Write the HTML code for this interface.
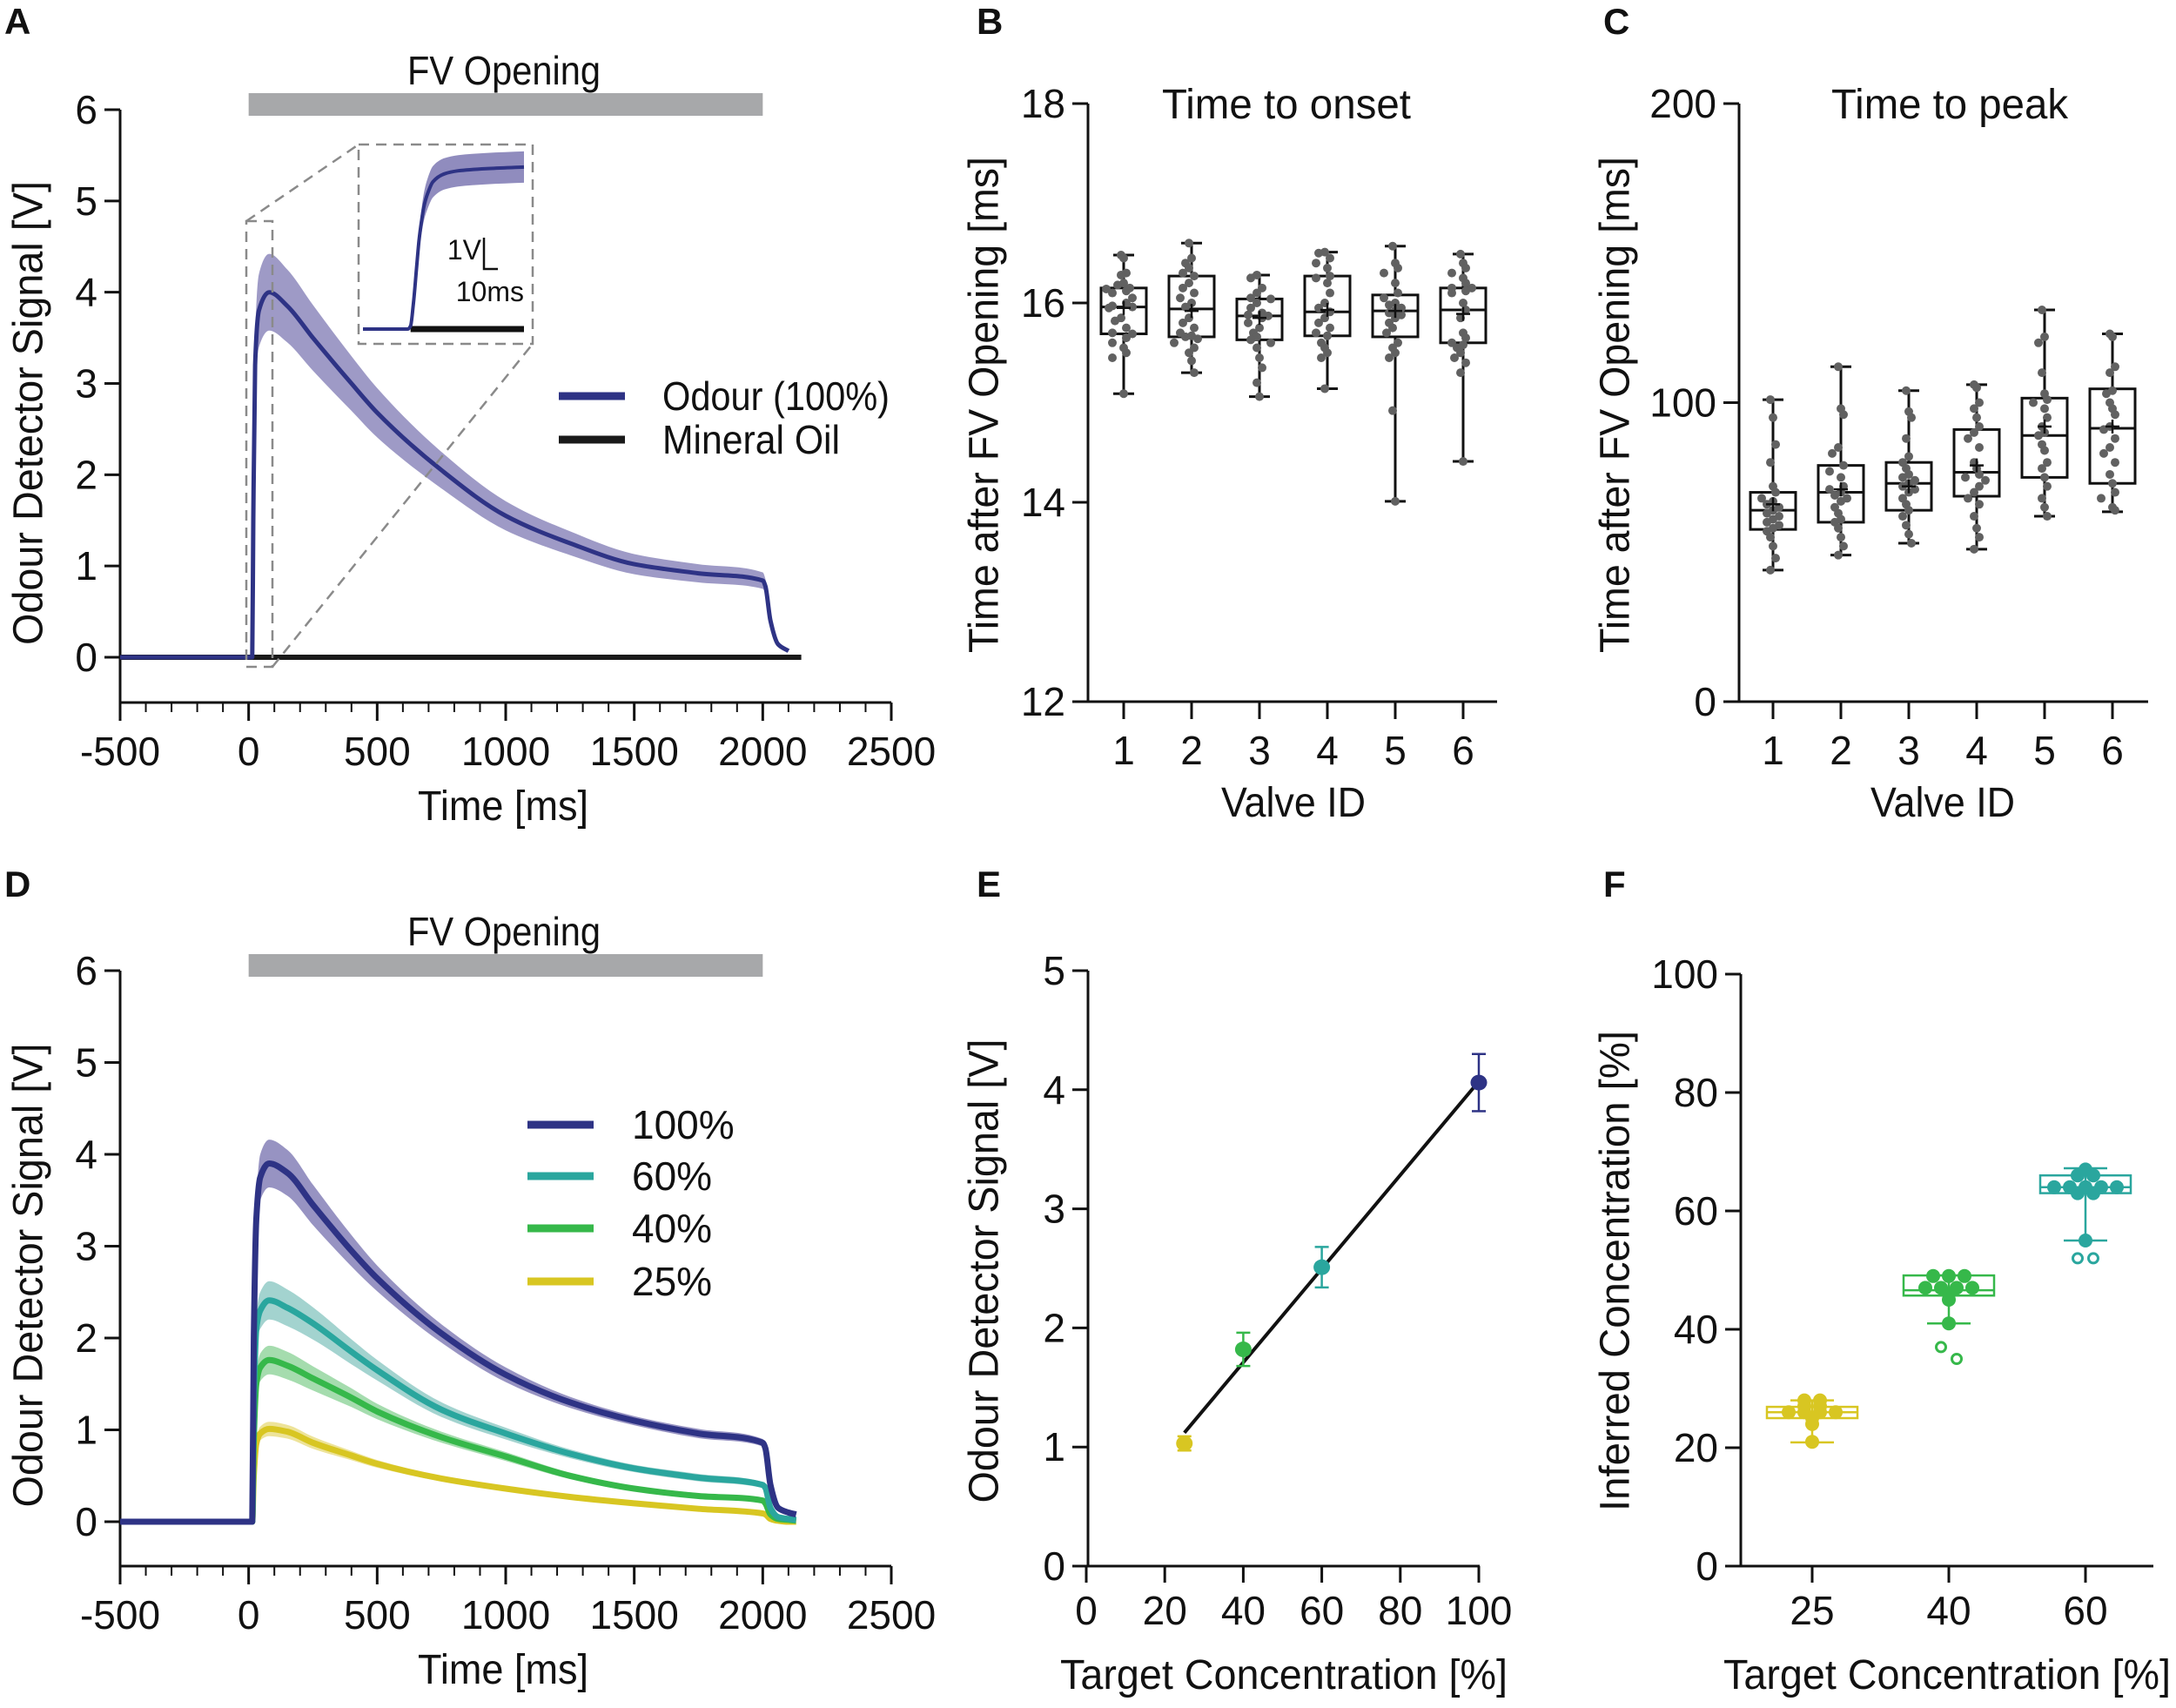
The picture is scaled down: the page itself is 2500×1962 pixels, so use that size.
<!DOCTYPE html>
<html><head><meta charset="utf-8">
<style>
html,body{margin:0;padding:0;background:#fff;}
svg{display:block;font-family:"Liberation Sans",Arial,sans-serif;}
text{fill:#111;}
</style></head>
<body>
<svg id="fig" width="2500" height="1962" viewBox="0 0 2500 1962" xmlns="http://www.w3.org/2000/svg"></svg>
<script>
// ===== Panel A data =====
const aTime = [-500,-100,0,14,18,25,40,80,150,250,400,500,750,1000,1250,1500,1750,2000,2010,2030,2060,2100];
const aOdour = [0,0,0,0,1.5,3.2,3.8,4.0,3.85,3.5,3.0,2.68,2.05,1.55,1.25,1.02,0.92,0.84,0.78,0.4,0.14,0.07];
const aOdourSd = [0,0,0,0,0.1,0.3,0.4,0.42,0.4,0.36,0.3,0.27,0.2,0.16,0.13,0.11,0.1,0.09,0.08,0.03,0.01,0.01];
const aOilTime = [-500,2150];
const aOil = [0,0];
const aTicksX = [-500,0,500,1000,1500,2000,2500];
const aTicksY = [0,1,2,3,4,5,6];
// inset
const insetTime = [-18,14,16,18,20,22,24,26,28,32,40,50,70,97];
const insetOdour = [0,0,0.1,0.8,1.8,2.8,3.5,4.0,4.3,4.7,4.95,5.05,5.12,5.17];
const insetSd = [0,0,0,0.05,0.15,0.3,0.4,0.45,0.48,0.5,0.5,0.5,0.5,0.5];
// ===== Panel B / C data =====
const valveIds = [1,2,3,4,5,6];
const bMax = [16.48,16.6,16.28,16.51,16.57,16.49];
const bQ3 = [16.15,16.27,16.04,16.27,16.08,16.15];
const bMed = [15.96,15.94,15.87,15.91,15.92,15.93];
const bQ1 = [15.69,15.66,15.63,15.67,15.66,15.60];
const bMin = [15.09,15.30,15.06,15.14,14.01,14.41];
const bMean = [15.95,15.92,15.85,15.93,15.92,15.89];
const bPts = [
 [16.48,16.45,16.3,16.28,16.2,16.18,16.15,16.14,16.12,16.1,16.05,16.0,15.97,15.96,15.95,15.85,15.82,15.75,15.7,15.69,15.65,15.6,15.55,15.5,15.45,15.09],
 [16.6,16.45,16.4,16.35,16.3,16.27,16.2,16.15,16.1,16.05,16.0,15.96,15.85,15.8,15.75,15.7,15.67,15.66,15.64,15.6,15.55,15.5,15.42,15.3],
 [16.28,16.25,16.15,16.1,16.05,16.04,16.0,15.95,15.9,15.88,15.87,15.85,15.8,15.75,15.7,15.66,15.63,15.6,15.55,15.45,15.35,15.2,15.06],
 [16.51,16.5,16.45,16.4,16.35,16.27,16.25,16.2,16.1,16.0,15.95,15.91,15.85,15.8,15.75,15.7,15.67,15.6,15.55,15.5,15.45,15.14],
 [16.57,16.4,16.35,16.3,16.2,16.1,16.05,16.0,15.98,15.95,15.92,15.9,15.88,15.85,15.8,15.75,15.7,15.6,15.55,15.5,15.45,14.92,14.01],
 [16.49,16.4,16.35,16.3,16.25,16.2,16.15,16.15,16.12,16.1,16.0,15.93,15.85,15.7,15.65,15.6,15.58,15.55,15.5,15.45,15.4,15.3,14.41]
];
const cMax = [101,112,104,106,131,123];
const cQ3 = [70,79,80,91,101.5,104.6];
const cMed = [64,70,73,76.7,89,91.4];
const cQ1 = [57.6,60,64,68.7,75,73];
const cMin = [44,49,53,51,62,63.5];
const cMean = [66,71,72,79,92,92];
const cPts = [
 [101,95,86,80,72,70,68,67,66,65,64,63,62,61,60,59,58,57,55,52,48,44],
 [112,98,96,85,83,79,77,75,72,71,70,69,68,67,65,63,61,60,58,55,52,49],
 [104,97,95,88,82,80,78,76,75,74,73,72,71,70,68,66,64,62,59,56,53],
 [106,105,100,98,95,92,90,88,85,80,78,76,75,74,72,70,68,66,62,58,55,51],
 [131,122,120,110,103,101,100,98,95,92,90,89,86,84,80,78,75,72,68,65,62],
 [123,122,112,110,104,103,100,98,96,92,91,88,85,83,80,76,73,70,68,65,64]
];
// ===== Panel D data =====
const dTime = [-500,0,14,20,30,45,80,150,250,400,500,750,1000,1250,1500,1750,2000,2010,2030,2060,2100,2130];
const d100 = [0,0,0,2.0,3.3,3.75,3.9,3.8,3.45,2.95,2.65,2.05,1.6,1.3,1.1,0.96,0.86,0.8,0.4,0.15,0.1,0.08];
const d60 = [0,0,0,1.3,2.1,2.3,2.41,2.33,2.16,1.85,1.65,1.22,0.96,0.74,0.58,0.48,0.4,0.37,0.15,0.05,0.03,0.02];
const d40 = [0,0,0,0.9,1.5,1.68,1.76,1.7,1.56,1.35,1.2,0.92,0.71,0.5,0.36,0.28,0.23,0.2,0.08,0.03,0.02,0.01];
const d25 = [0,0,0,0.5,0.85,0.96,1.01,0.98,0.86,0.72,0.63,0.47,0.36,0.27,0.2,0.14,0.09,0.08,0.03,0.01,0.0,0.0];
const dSd100 = [0,0,0,0.1,0.2,0.25,0.26,0.25,0.22,0.17,0.14,0.1,0.08,0.06,0.05,0.05,0.04,0.03,0.01,0,0,0];
const dSdScale = [1,0.8,0.6,0.3];
const dLabels = ["100%","60%","40%","25%"];
// ===== Panel E data =====
const eTarget = [25,40,60,100];
const eSignal = [1.03,1.82,2.51,4.06];
const eErr = [0.06,0.14,0.17,0.24];
const eFit = [1.12,4.07];
const eTicksX = [0,20,40,60,80,100];
const eTicksY = [0,1,2,3,4,5];
// ===== Panel F data =====
const fCats = ["25","40","60"];
const fMax = [28,49.1,67.2];
const fQ3 = [26.9,49.1,66];
const fMed = [26,46.6,64];
const fQ1 = [25,45.7,63];
const fMin = [20.9,41,55];
const fPts = [
 [28,28,27,27,26,26,26,26,25,24,21],
 [49,49,49,47,47,47,47,46,45,41],
 [67,66,66,64,64,64,64,64,63,63,55]
];
const fOpen = [[],[37,35],[52,52]];
const fTicksY = [0,20,40,60,80,100];

const navy="#2e3385", teal="#2aa69e", green="#36b84a", yellow="#d8c622";
const svg=document.getElementById('fig');
const NS="http://www.w3.org/2000/svg";
function el(tag,attrs,parent,txt){const e=document.createElementNS(NS,tag);for(const k in attrs)e.setAttribute(k,attrs[k]);if(txt!==undefined)e.textContent=txt;(parent||svg).appendChild(e);return e;}
function g(name){const e=el('g',{});


return e;}
function txt(parent,name,x,y,s,opts){const t=el('text',Object.assign({x:x,y:y,'font-size':46},opts||{}),parent,s);


return t;}
function ytitle(parent,name,cx,cy,s,len){const t=el('text',{x:0,y:0,'font-size':48,'text-anchor':'middle',textLength:len,lengthAdjust:'spacingAndGlyphs',transform:`translate(${cx},${cy}) rotate(-90)`,'dominant-baseline':'central'},parent,s);

}
function line(p,x1,y1,x2,y2,st,w){return el('line',{x1,y1,x2,y2,stroke:st||'#111','stroke-width':w||3},p);}
function lin(d0,d1,r0,r1){return v=>r0+(v-d0)*(r1-r0)/(d1-d0);}

// monotone cubic path through pixel points (x increasing)
function monoPath(px,py,start){
 const n=px.length;const d=[],m=new Array(n).fill(0);
 for(let i=0;i<n-1;i++)d.push((py[i+1]-py[i])/(px[i+1]-px[i]||1e-6));
 for(let i=1;i<n-1;i++){if(d[i-1]*d[i]<=0)m[i]=0;else{const w1=2*(px[i+1]-px[i])+(px[i]-px[i-1]),w2=(px[i+1]-px[i])+2*(px[i]-px[i-1]);m[i]=(w1+w2)/(w1/d[i-1]+w2/d[i]);}}
 m[0]=d[0];m[n-1]=d[n-2];
 let s=(start||'M')+px[0].toFixed(1)+','+py[0].toFixed(1);
 for(let i=0;i<n-1;i++){const h=(px[i+1]-px[i])/3;
  s+='C'+(px[i]+h).toFixed(1)+','+(py[i]+m[i]*h).toFixed(1)+' '+(px[i+1]-h).toFixed(1)+','+(py[i+1]-m[i+1]*h).toFixed(1)+' '+px[i+1].toFixed(1)+','+py[i+1].toFixed(1);}
 return s;
}

// panel letters
[["A",5,39],["B",1122,39],["C",1842,39],["D",5,1030],["E",1122,1030],["F",1842,1030]].forEach(l=>{
 const t=el('text',{x:l[1],y:l[2],'font-size':42,'font-weight':'bold'},svg,l[0]);
 
 
});

// ===== time-trace panels (A, D) =====
function traceAxes(p,prefix,top0,zeroY,axisY){
 const xs=lin(-500,2500,138,1024), ys=lin(0,6,zeroY,top0);
 line(p,138,ys(6),138,axisY);
 line(p,137,axisY,1024,axisY);
 aTicksY.forEach(v=>{line(p,120,ys(v),138,ys(v));txt(p,prefix+'-y-tick-'+v,112,ys(v)+16,String(v),{'text-anchor':'end'});});
 for(let t=-500;t<=2500;t+=100){const maj=t%500===0;line(p,xs(t),axisY,xs(t),axisY+(maj?21:11),'#111',maj?3:2);}
 aTicksX.forEach(v=>txt(p,prefix+'-x-tick-'+v,xs(v),axisY+72,String(v),{'text-anchor':'middle'}));
 txt(p,prefix+'-x-title',578,axisY+135,'Time [ms]',{'text-anchor':'middle',textLength:196,lengthAdjust:'spacingAndGlyphs','font-size':48});
 ytitle(p,prefix+'-y-title',33,(ys(6)+axisY)/2+8,'Odour Detector Signal [V]',533);
 const bar=el('rect',{x:xs(0),y:ys(6)-19,width:xs(2000)-xs(0),height:26,fill:'#a7a8aa'},p);
 
 
 txt(p,prefix+'-fv-opening-label',579,ys(6)-29,'FV Opening',{'text-anchor':'middle',textLength:222,lengthAdjust:'spacingAndGlyphs','font-size':46});
 return {xs,ys};
}
function band(p,name,t,v,sd,xs,ys,fill,op){
 const px=t.map(xs);
 const up=monoPath(px,t.map((tt,i)=>ys(v[i]+sd[i])));
 const rx=px.slice().reverse().map(x=>-x);
 const lo=t.map((tt,i)=>ys(v[i]-sd[i])).reverse();
 // build lower edge path reversed (negate x to keep increasing for the interpolation, then flip back)
 let low=monoPath(rx,lo,'L').replace(/(-?\d+\.?\d*),(-?\d+\.?\d*)/g,(m,a,b)=>(-parseFloat(a)).toFixed(1)+','+b);
 const e=el('path',{d:up+low+'Z',fill:fill,opacity:op},p);
 
 
}
function trace(p,name,t,v,xs,ys,col,w){
 const d=monoPath(t.map(xs),v.map(ys));
 const e=el('path',{d,fill:'none',stroke:col,'stroke-width':w,'stroke-linejoin':'round'},p);
 
 
}

// Panel A
const pA=g('panel-a');
const A=traceAxes(pA,'a',126,755,807);
band(pA,'a-odour-band',aTime,aOdour,aOdourSd,A.xs,A.ys,'#7d78b3',0.75);
trace(pA,'a-mineral-oil-line',aOilTime,aOil,A.xs,A.ys,'#1a1a1a',6);
trace(pA,'a-odour-line',aTime,aOdour,A.xs,A.ys,navy,5);
// zoom dashes
const dash={stroke:'#8a8a8a','stroke-width':2.5,fill:'none','stroke-dasharray':'12,8'};
el('rect',Object.assign({x:283,y:254,width:30,height:512},dash),pA);
el('rect',Object.assign({x:412,y:166,width:200,height:229},dash),pA);
el('line',Object.assign({x1:283,y1:254,x2:412,y2:166},dash),pA);
el('line',Object.assign({x1:313,y1:766,x2:612,y2:395},dash),pA);
// inset
const ix=lin(-18,97,417,602), iy=lin(0,1,378,342);
const pI=g('a-inset');
band(pI,'inset-band',insetTime,insetOdour,insetSd,ix,iy,'#7d78b3',0.85);
trace(pI,'inset-oil-line',[16,97],[0,0],ix,iy,'#111',7);
trace(pI,'inset-odour-line',insetTime,insetOdour,ix,iy,navy,4);
el('path',{d:'M556,273 L556,309 L572,309',fill:'none',stroke:'#111','stroke-width':2.5},pI);
txt(pI,'inset-scale-1v',553,298,'1V',{'text-anchor':'end','font-size':32});
txt(pI,'inset-scale-10ms',602,346,'10ms',{'text-anchor':'end','font-size':32});
// legend A
const lgA=g('a-legend');
line(lgA,642,455,718,455,navy,9);line(lgA,642,505,718,505,'#1a1a1a',9);
txt(lgA,'legend-odour',761,471,'Odour (100%)',{textLength:261,lengthAdjust:'spacingAndGlyphs'});
txt(lgA,'legend-mineral-oil',761,521,'Mineral Oil',{textLength:204,lengthAdjust:'spacingAndGlyphs'});

// ===== Box panels B, C =====
function boxPanel(p,prefix,axX,vlo,vhi,ticks,x1,x6,xEnd,title,titleX,titleLen,ytX,mx,q3,md,q1,mn,mean,pts,yw){
 const ys=lin(vlo,vhi,806,119), xs=lin(1,6,x1,x6);
 line(p,axX,119,axX,806);line(p,axX-2,806,xEnd,806);
 ticks.forEach(v=>{line(p,axX-18,ys(v),axX,ys(v));txt(p,prefix+'-y-tick-'+v,axX-26,ys(v)+16,String(v),{'text-anchor':'end'});});
 valveIds.forEach(v=>{line(p,xs(v),806,xs(v),826);txt(p,prefix+'-x-tick-'+v,xs(v),878,String(v),{'text-anchor':'middle'});});
 txt(p,prefix+'-x-title',(x1+x6)/2,938,'Valve ID',{'text-anchor':'middle',textLength:166,lengthAdjust:'spacingAndGlyphs','font-size':48});
 txt(p,prefix+'-title',titleX,136,title,{'text-anchor':'middle',textLength:titleLen,lengthAdjust:'spacingAndGlyphs','font-size':48});
 ytitle(p,prefix+'-y-title',ytX,465,'Time after FV Opening [ms]',570);
 valveIds.forEach((v,i)=>{
  const bg=g(prefix+'-box-valve-'+v);p.appendChild(bg);
  const cx=xs(v);
  line(bg,cx,ys(mx[i]),cx,ys(q3[i]),'#111',3);line(bg,cx,ys(q1[i]),cx,ys(mn[i]),'#111',3);
  line(bg,cx-12,ys(mx[i]),cx+12,ys(mx[i]),'#111',3);line(bg,cx-12,ys(mn[i]),cx+12,ys(mn[i]),'#111',3);
  el('rect',{x:cx-26,y:ys(q3[i]),width:52,height:ys(q1[i])-ys(q3[i]),fill:'none',stroke:'#111','stroke-width':3},bg);
  line(bg,cx-26,ys(md[i]),cx+26,ys(md[i]),'#111',3);
  const counts={};
  pts[i].forEach((val,k)=>{
   const key=Math.round((ys(val)-119)/yw);counts[key]=(counts[key]||0)+1;
   const n=counts[key];const off=(n%2?1:-1)*Math.floor(n/2)*10+((k%3)-1)*3;
   const c=el('circle',{cx:cx+off,cy:ys(val),r:5,fill:'#616161'},bg);
   
   
  });
  line(bg,cx-8,ys(mean[i]),cx+8,ys(mean[i]),'#111',2.5);line(bg,cx,ys(mean[i])-8,cx,ys(mean[i])+8,'#111',2.5);
 });
}
const pB=g('panel-b');
boxPanel(pB,'b',1250,12,18,[12,14,16,18],1291,1681,1720,'Time to onset',1478,286,1131,bMax,bQ3,bMed,bQ1,bMin,bMean,bPts,10);
const pC=g('panel-c');
boxPanel(pC,'c',1998,0,200,[0,100,200],2037,2427,2468,'Time to peak',2240,272,1856,cMax,cQ3,cMed,cQ1,cMin,cMean,cPts,10);

// Panel D
const pD=g('panel-d');
const D=traceAxes(pD,'d',1115,1748,1799);
const dSeries=[d100,d60,d40,d25], dCols=[navy,teal,green,yellow], dBand=['#7d78b3','#8cc8c3','#8fd39a','#e8dc80'];
dSeries.forEach((s,i)=>{band(pD,'d-band-'+dLabels[i].replace('%',''),dTime,s,dSd100.map(v=>v*dSdScale[i]),D.xs,D.ys,dBand[i],0.8);});
for(let i=3;i>=0;i--)trace(pD,'d-line-'+dLabels[i].replace('%',''),dTime,dSeries[i],D.xs,D.ys,dCols[i],7);
const lgD=g('d-legend');
[1292,1351,1411,1472].forEach((y,i)=>{line(lgD,606,y,682,y,dCols[i],9);txt(lgD,'legend-'+dLabels[i].replace('%',''),726,y+16,dLabels[i]);});

// Panel E
const pE=g('panel-e');
const exs=lin(0,100,1248,1699), eys=lin(0,5,1799,1115);
line(pE,1250,1115,1250,1799);line(pE,1248,1799,1700,1799);
eTicksY.forEach(v=>{line(pE,1232,eys(v),1250,eys(v));txt(pE,'e-y-tick-'+v,1224,eys(v)+16,String(v),{'text-anchor':'end'});});
eTicksX.forEach(v=>{line(pE,exs(v),1799,exs(v),1818);txt(pE,'e-x-tick-'+v,exs(v),1866,String(v),{'text-anchor':'middle'});});
txt(pE,'e-x-title',1475,1940,'Target Concentration [%]',{'text-anchor':'middle',textLength:514,lengthAdjust:'spacingAndGlyphs','font-size':48});
ytitle(pE,'e-y-title',1131,1460,'Odour Detector Signal [V]',533);
const fl=el('line',{x1:exs(eTarget[0]),y1:eys(eFit[0]),x2:exs(eTarget[3]),y2:eys(eFit[1]),stroke:'#111','stroke-width':4},pE);


const eCols=[yellow,green,teal,navy];
eTarget.forEach((t,i)=>{
 const x=exs(t);
 line(pE,x,eys(eSignal[i]+eErr[i]),x,eys(eSignal[i]-eErr[i]),eCols[i],2.5);
 line(pE,x-8,eys(eSignal[i]+eErr[i]),x+8,eys(eSignal[i]+eErr[i]),eCols[i],2.5);
 line(pE,x-8,eys(eSignal[i]-eErr[i]),x+8,eys(eSignal[i]-eErr[i]),eCols[i],2.5);
 const c=el('ellipse',{cx:x,cy:eys(eSignal[i]),rx:9.5,ry:9,fill:eCols[i]},pE);
 
 
});

// Panel F
const pF=g('panel-f');
const fys=lin(0,100,1799,1119), fxs=[2082,2239,2396];
line(pF,2000,1119,2000,1799);line(pF,1998,1799,2474,1799);
fTicksY.forEach(v=>{line(pF,1982,fys(v),2000,fys(v));txt(pF,'f-y-tick-'+v,1974,fys(v)+16,String(v),{'text-anchor':'end'});});
fCats.forEach((c,i)=>{line(pF,fxs[i],1799,fxs[i],1818);txt(pF,'f-x-tick-'+c,fxs[i],1866,c,{'text-anchor':'middle'});});
txt(pF,'f-x-title',2237,1940,'Target Concentration [%]',{'text-anchor':'middle',textLength:514,lengthAdjust:'spacingAndGlyphs','font-size':48});
ytitle(pF,'f-y-title',1856,1460,'Inferred Concentration [%]',552);
const fCols=[yellow,green,teal];
fCats.forEach((c,i)=>{
 const bg=g('f-box-'+c);pF.appendChild(bg);const cx=fxs[i],col=fCols[i];
 line(bg,cx,fys(fMax[i]),cx,fys(fMin[i]),col,2.5);
 line(bg,cx-25,fys(fMax[i]),cx+25,fys(fMax[i]),col,2.5);line(bg,cx-25,fys(fMin[i]),cx+25,fys(fMin[i]),col,2.5);
 el('rect',{x:cx-52,y:fys(fQ3[i]),width:104,height:fys(fQ1[i])-fys(fQ3[i]),fill:'none',stroke:col,'stroke-width':2.5},bg);
 line(bg,cx-52,fys(fMed[i]),cx+52,fys(fMed[i]),col,2.5);
 const counts={},tot={};
 fPts[i].forEach(v=>{tot[v]=(tot[v]||0)+1;});
 fPts[i].forEach(v=>{counts[v]=(counts[v]||0);const k=counts[v]++;const off=(k-(tot[v]-1)/2)*18;
  const p=el('circle',{cx:cx+off,cy:fys(v),r:8,fill:col},bg);
  
  
 });
 fOpen[i].forEach((v,k)=>{const off=(k-(fOpen[i].length-1)/2)*18;
  const p=el('circle',{cx:cx+off,cy:fys(v),r:5.5,fill:'none',stroke:col,'stroke-width':3},bg);
  
  
 });
});
</script>
</body></html>
